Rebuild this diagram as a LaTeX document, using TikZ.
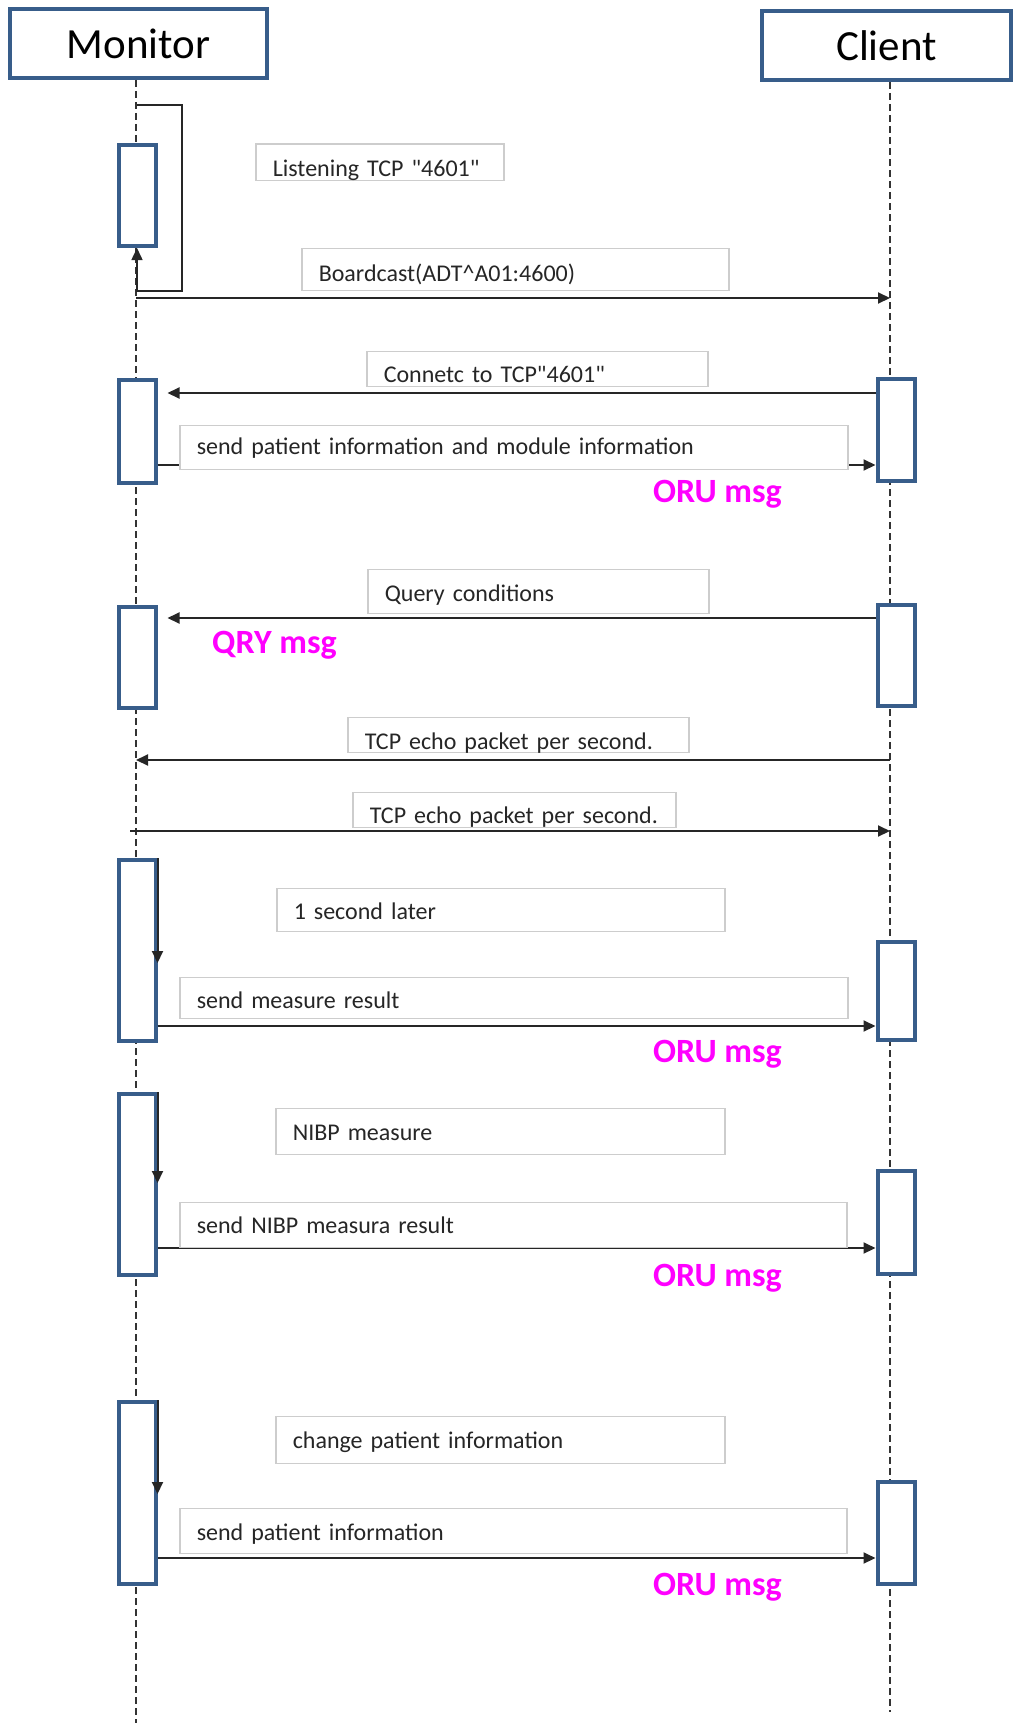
\documentclass[tikz,border=0pt]{standalone}
\usepackage{fontspec}
\setmainfont{Carlito}[Ligatures=TeXOff]
\usetikzlibrary{arrows.meta,calc}

\definecolor{lineblue}{RGB}{56,93,138}
\definecolor{notegray}{RGB}{205,205,205}
\definecolor{msgpink}{RGB}{255,0,255}

\tikzset{
  head/.style={draw=lineblue, line width=4pt, fill=white, inner sep=0pt,
    font=\fontsize{43}{50}\selectfont},
  act/.style={draw=lineblue, line width=4pt, fill=white, minimum width=37pt, inner sep=0pt},
  life/.style={line width=1.5pt, black!80, dash pattern=on 7pt off 4pt},
  msg/.style={line width=2pt, black!85, -{Triangle[length=12pt,width=11pt]}},
  note/.style={draw=notegray, line width=1.5pt, fill=white, anchor=south west,
    inner xsep=17pt, inner ysep=0pt, align=left, text=black!85,
    font=\fontsize{24}{28}\selectfont},
  tag/.style={anchor=base west, inner sep=0pt, text=msgpink,
    font=\bfseries\fontsize{34}{40}\selectfont}
}

\begin{document}
\begin{tikzpicture}[x=1pt,y=-1pt]
  \useasboundingbox (0,0) rectangle (1016,1726);

  % lifelines
  \node[head, minimum width=257pt, minimum height=69pt] (mon) at (138.5,43.5) {Monitor};
  \node[head, minimum width=249pt, minimum height=69pt] (cli) at (886.5,45.5) {Client};
  \coordinate (mend) at (136,1723);
  \coordinate (cend) at (890,1712);
  \draw[life] (mend |- mon.south) -- (mend);
  \draw[life] (cend |- cli.south) -- (cend);

  % activations
  \node[act, minimum height=101pt] (ma) at (137,195.5) {};
  \node[act, minimum height=103pt] (mb) at (137,431.5) {};
  \node[act, minimum height=101pt] (mc) at (137,657.5) {};
  \node[act, minimum height=181pt] (md) at (137,950.5) {};
  \node[act, minimum height=181pt] (me) at (137,1184.5) {};
  \node[act, minimum height=182pt] (mf) at (137,1493) {};
  \node[act, minimum height=102pt] (ca) at (896,430) {};
  \node[act, minimum height=101pt] (cb) at (896,655.5) {};
  \node[act, minimum height=98pt]  (cc) at (896,991) {};
  \node[act, minimum height=103pt] (cd) at (896,1222.5) {};
  \node[act, minimum height=102pt] (ce) at (896,1533) {};

  % messages
  \draw[msg, line width=1.5pt] (ma.north |- 0,105) -| (182,291) -| (ma.south);
  \draw[msg] (mend |- 0,298) -- (cend |- 0,298);
  \draw[msg] (ca.west |- 0,393) -- ($(mb.east |- 0,393)+(10,0)$);
  \draw[msg] (mb.east |- 0,465) -- (ca.west |- 0,465);
  \draw[msg] (cb.west |- 0,618) -- ($(mc.east |- 0,618)+(10,0)$);
  \draw[msg] (cend |- 0,760) -- (mend |- 0,760);
  \draw[msg] ($(mend |- 0,831)+(-6,0)$) -- (cend |- 0,831);
  \draw[msg] (md.north east) -- (md.north east |- 0,963);
  \draw[msg] (md.east |- 0,1026) -- (cc.west |- 0,1026);
  \draw[msg] (me.north east) -- (me.north east |- 0,1183);
  \draw[msg] (me.east |- 0,1248) -- (cd.west |- 0,1248);
  \draw[msg] (mf.north east) -- (mf.north east |- 0,1494);
  \draw[msg] (mf.east |- 0,1558) -- (ce.west |- 0,1558);

  % message notes
  \node[note, text width=214pt, text height=32pt, text depth=4pt]  (lis) at (255,181) {Listening TCP "4601"};
  \node[note, text width=393pt, text height=33pt, text depth=9pt]  (brd) at (301,291) {Boardcast(ADT\textasciicircum A01:4600)};
  \node[note, text width=307pt, text height=31pt, text depth=4pt]  (con) at (366,387) {Connetc to TCP"4601"};
  \node[note, text width=634pt, text height=29pt, text depth=15pt] (spi) at (179,470) {send patient information and module information};
  \node[note, text width=307pt, text height=32pt, text depth=12pt] (qco) at (367,614) {Query conditions};
  \node[note, text width=307pt, text height=32pt, text depth=3pt]  (ec1) at (347,753) {TCP echo packet per second.};
  \node[note, text width=289pt, text height=31pt, text depth=4pt]  (ec2) at (352,828) {TCP echo packet per second.};
  \node[note, text width=414pt, text height=31pt, text depth=12pt] (sec) at (276,932) {1 second later};
  \node[note, text width=634pt, text height=31pt, text depth=10pt] (smr) at (179,1019) {send measure result};
  \node[note, text width=415pt, text height=32pt, text depth=14pt] (nib) at (275,1155) {NIBP measure};
  \node[note, text width=633pt, text height=31pt, text depth=14pt] (snr) at (179,1248) {send NIBP measura result};
  \node[note, text width=415pt, text height=32pt, text depth=15pt] (chg) at (275,1464) {change patient information};
  \node[note, text width=633pt, text height=32pt, text depth=13pt] (spn) at (179,1554) {send patient information};

  % message types
  \node[tag] (oru1) at (653,502) {ORU msg};
  \node[tag] (qry) at (212,653) {QRY msg};
  \node[tag] (oru2) at (653,1062) {ORU msg};
  \node[tag] (oru3) at (653,1286) {ORU msg};
  \node[tag] (oru4) at (653,1595) {ORU msg};
\end{tikzpicture}
\end{document}
